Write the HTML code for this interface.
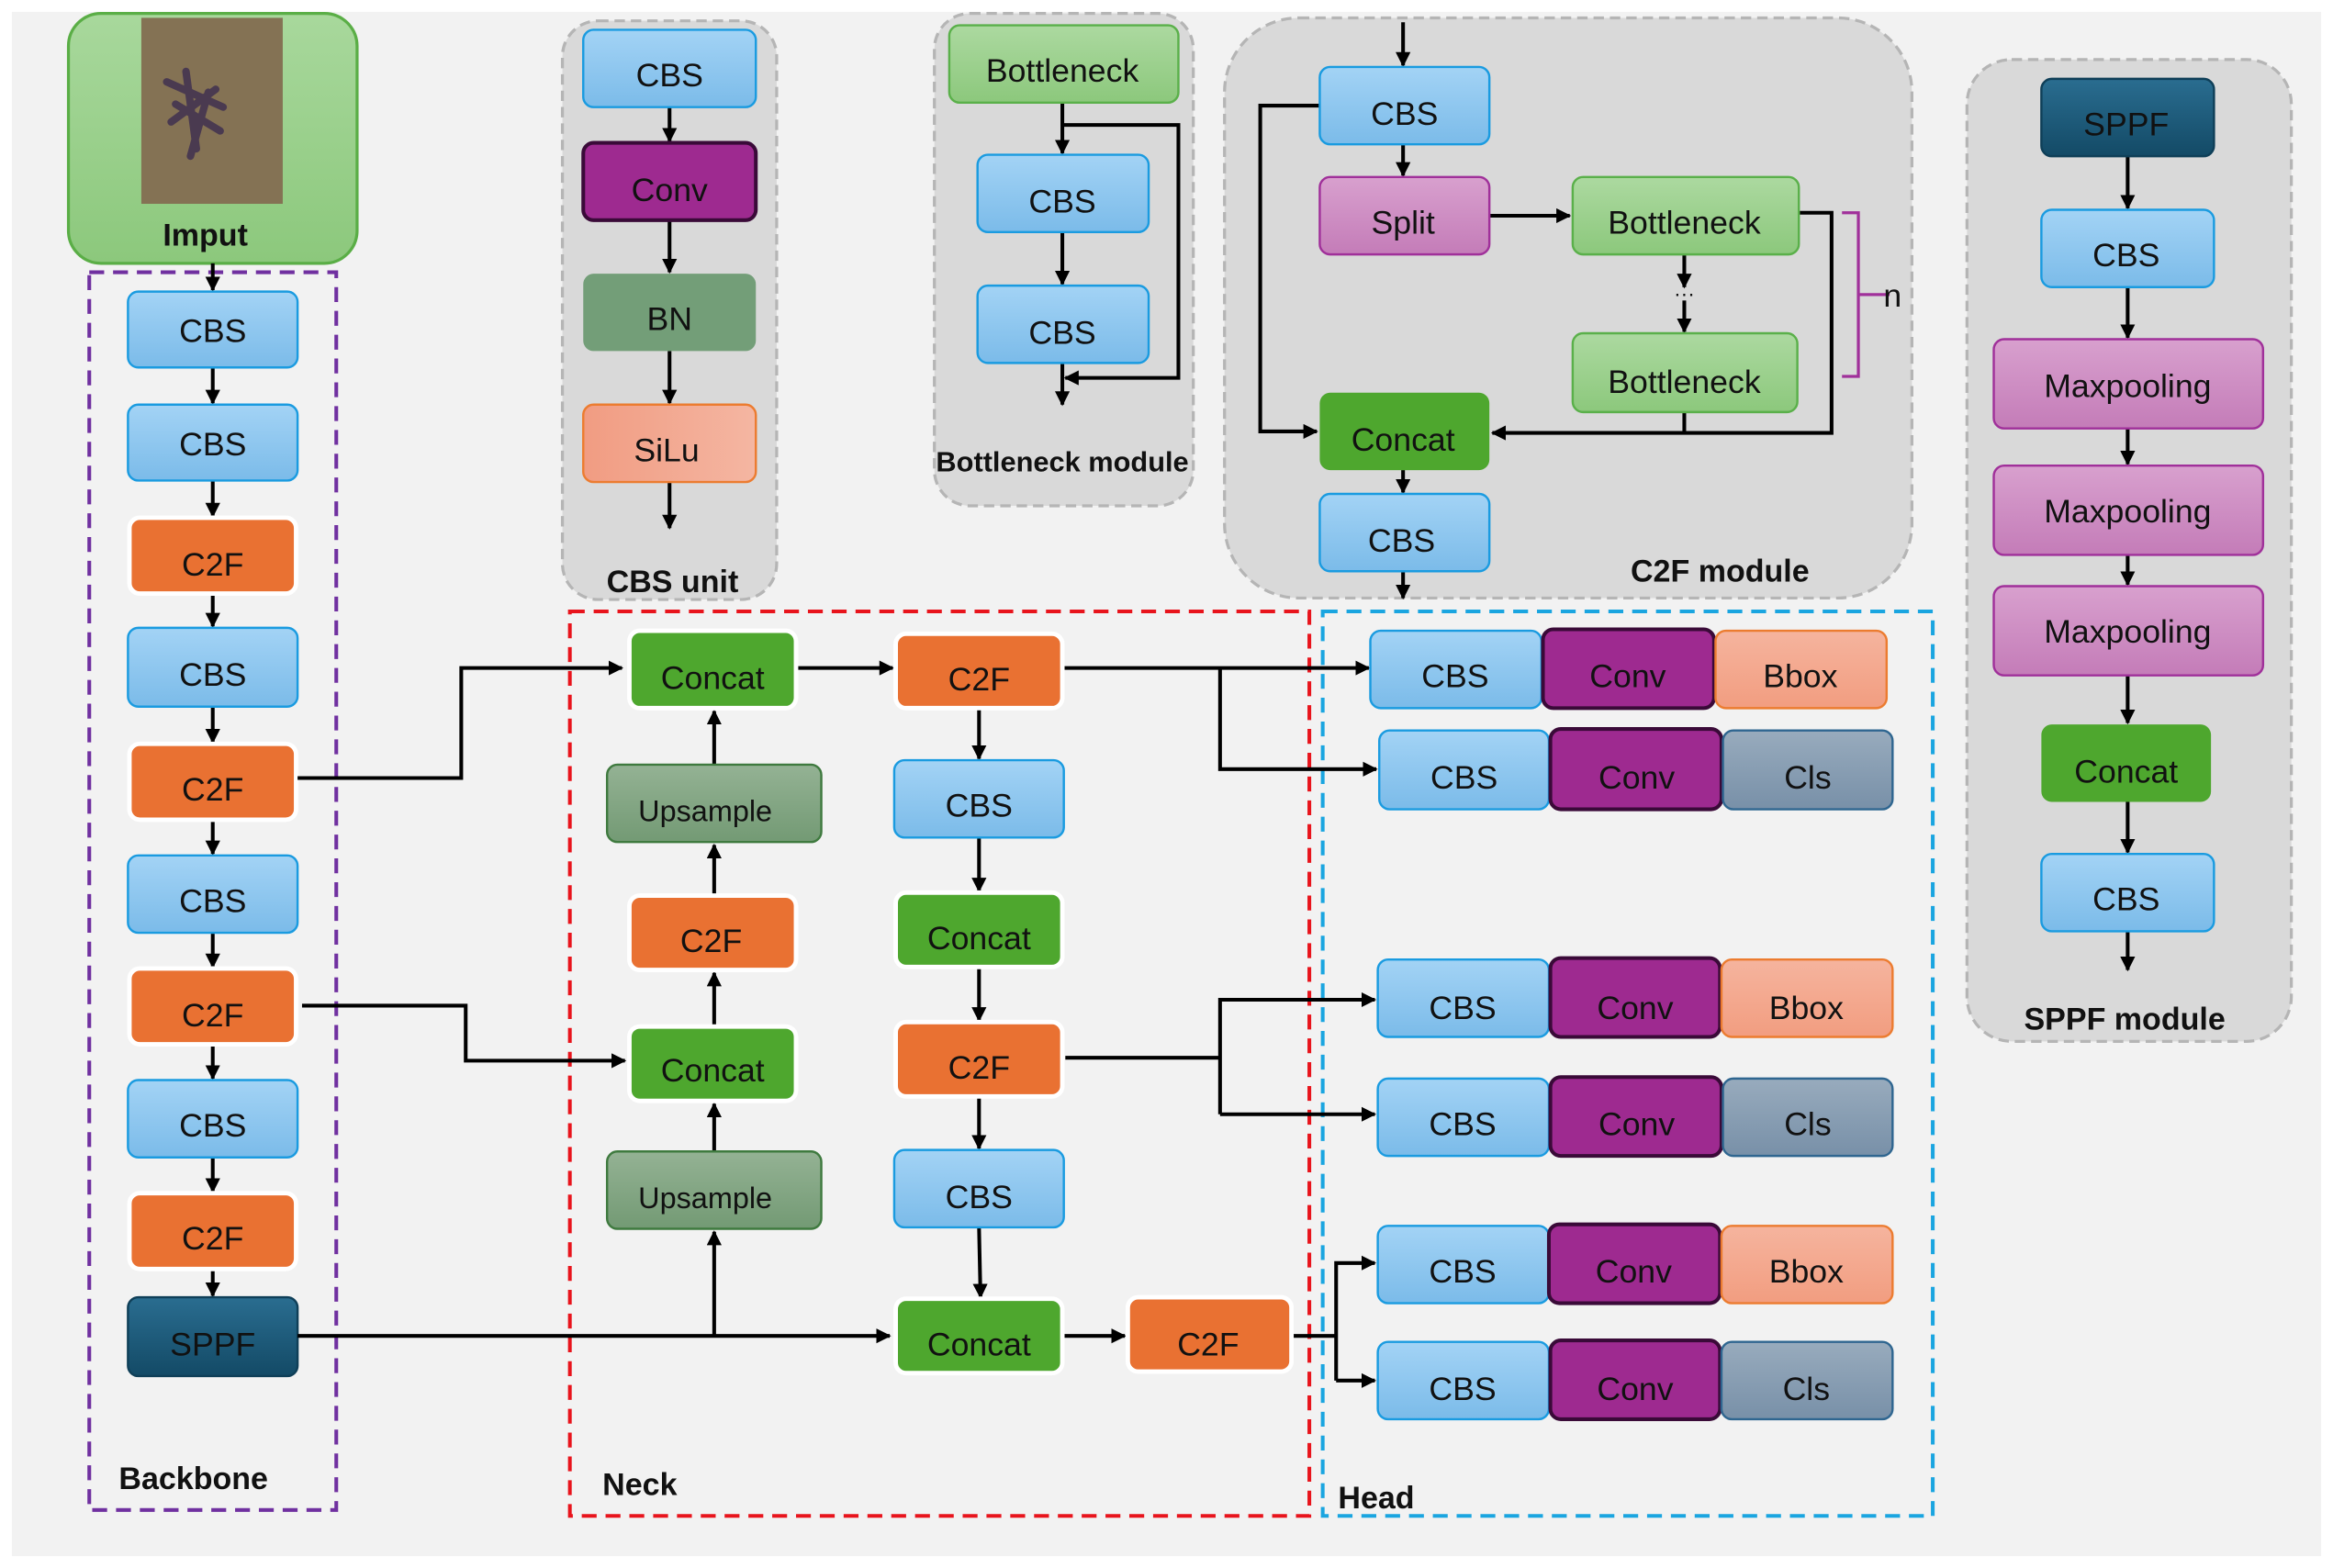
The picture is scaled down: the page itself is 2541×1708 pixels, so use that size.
<!DOCTYPE html>
<html><head><meta charset="utf-8"><style>
html,body{margin:0;padding:0;background:#fff;}
svg{display:block;}
text{font-family:"Liberation Sans",sans-serif;font-size:22px;fill:#111;text-anchor:middle;}
.b{font-weight:bold;font-size:21px;}
</style></head><body>
<svg width="2541" height="1708" viewBox="0 0 1568 1054" preserveAspectRatio="none" xmlns="http://www.w3.org/2000/svg">
<defs>
<marker id="a" viewBox="0 0 10 10" refX="9" refY="5" markerWidth="4" markerHeight="4" orient="auto"><path d="M0,0L10,5L0,10z" fill="#000"/></marker>
<linearGradient id="cbs" x1="0" y1="0" x2="0" y2="1"><stop offset="0" stop-color="#a3d3f5"/><stop offset="1" stop-color="#7bbbe9"/></linearGradient>
<linearGradient id="sil" x1="0" y1="0" x2="1" y2="0"><stop offset="0" stop-color="#f19c82"/><stop offset="1" stop-color="#f4b6a2"/></linearGradient>
<linearGradient id="bb" x1="0" y1="0" x2="0" y2="1"><stop offset="0" stop-color="#f5b49e"/><stop offset="1" stop-color="#f29d80"/></linearGradient>
<linearGradient id="cls" x1="0" y1="0" x2="0" y2="1"><stop offset="0" stop-color="#98abbd"/><stop offset="1" stop-color="#7890a8"/></linearGradient>
<linearGradient id="spl" x1="0" y1="0" x2="0" y2="1"><stop offset="0" stop-color="#d8a0ce"/><stop offset="1" stop-color="#c47cb8"/></linearGradient>
<linearGradient id="bot" x1="0" y1="0" x2="0" y2="1"><stop offset="0" stop-color="#acd9a0"/><stop offset="1" stop-color="#8cc87c"/></linearGradient>
<linearGradient id="up" x1="0" y1="0" x2="0" y2="1"><stop offset="0" stop-color="#94b294"/><stop offset="1" stop-color="#739a74"/></linearGradient>
<linearGradient id="sp" x1="0" y1="0" x2="0" y2="1"><stop offset="0" stop-color="#2a6d90"/><stop offset="1" stop-color="#134a66"/></linearGradient>
<linearGradient id="inp" x1="0" y1="0" x2="0" y2="1"><stop offset="0" stop-color="#a8d89c"/><stop offset="1" stop-color="#8cc87c"/></linearGradient>
</defs>
<rect x="0" y="0" width="1568" height="1054" fill="#fff"/>
<rect x="8" y="8" width="1552" height="1038" fill="#f2f2f2"/>

<!-- modules background -->
<rect x="378" y="14" width="144" height="389" rx="24" fill="#d9d9d9" stroke="#b5b5b5" stroke-width="2" stroke-dasharray="7,4"/>
<rect x="628" y="9" width="174" height="331" rx="24" fill="#d9d9d9" stroke="#b5b5b5" stroke-width="2" stroke-dasharray="7,4"/>
<rect x="823" y="12" width="462" height="390" rx="50" fill="#d9d9d9" stroke="#b5b5b5" stroke-width="2" stroke-dasharray="7,4"/>
<rect x="1322" y="40" width="218" height="660" rx="30" fill="#d9d9d9" stroke="#b5b5b5" stroke-width="2" stroke-dasharray="7,4"/>

<!-- dashed group frames -->
<rect x="60" y="183" width="166" height="832" fill="none" stroke="#7030a0" stroke-width="2.5" stroke-dasharray="10,6"/>
<rect x="383" y="411" width="497" height="608" fill="none" stroke="#e8141c" stroke-width="2.5" stroke-dasharray="10,6"/>
<rect x="889" y="411" width="410" height="608" fill="none" stroke="#1aa5e0" stroke-width="2.5" stroke-dasharray="10,6"/>
<text class="b" x="130" y="1001">Backbone</text>
<text class="b" x="430" y="1005">Neck</text>
<text class="b" x="925" y="1014">Head</text>

<!-- Input -->
<rect x="46" y="9" width="194" height="168" rx="22" fill="url(#inp)" stroke="#5aae46" stroke-width="2"/>
<rect x="95" y="12" width="95" height="125" fill="#7d6a4e"/>
<rect x="95" y="12" width="95" height="125" fill="#8b7a5a" opacity="0.5"/>
<g stroke="#4a3a50" stroke-width="5" stroke-linecap="round">
<line x1="112" y1="55" x2="150" y2="72"/><line x1="118" y1="70" x2="148" y2="88"/><line x1="125" y1="48" x2="132" y2="100"/><line x1="140" y1="62" x2="128" y2="105"/><line x1="115" y1="82" x2="145" y2="60"/>
</g>
<text class="b" x="138" y="165">Imput</text>

<!-- Backbone column -->
<g stroke="#000" stroke-width="2.5" marker-end="url(#a)">
<line x1="143" y1="177" x2="143" y2="195"/>
<line x1="143" y1="247" x2="143" y2="271"/>
<line x1="143" y1="323" x2="143" y2="347"/>
<line x1="143" y1="399" x2="143" y2="421"/>
<line x1="143" y1="475" x2="143" y2="499"/>
<line x1="143" y1="551" x2="143" y2="574"/>
<line x1="143" y1="627" x2="143" y2="650"/>
<line x1="143" y1="702" x2="143" y2="725"/>
<line x1="143" y1="778" x2="143" y2="801"/>
<line x1="143" y1="853" x2="143" y2="871"/>
</g>
<g stroke="#1a9be0" stroke-width="1.5" fill="url(#cbs)">
<rect x="86" y="196" width="114" height="51" rx="7"/>
<rect x="86" y="272" width="114" height="51" rx="7"/>
<rect x="86" y="422" width="114" height="53" rx="7"/>
<rect x="86" y="575" width="114" height="52" rx="7"/>
<rect x="86" y="726" width="114" height="52" rx="7"/>
</g>
<g fill="#e97132" stroke="#fff" stroke-width="3">
<rect x="87" y="348" width="112" height="51" rx="7"/>
<rect x="87" y="500" width="112" height="51" rx="7"/>
<rect x="87" y="651" width="112" height="51" rx="7"/>
<rect x="87" y="802" width="112" height="51" rx="7"/>
</g>
<rect x="86" y="872" width="114" height="53" rx="7" fill="url(#sp)" stroke="#0f3f58" stroke-width="1.5"/>
<text x="143" y="230">CBS</text><text x="143" y="306">CBS</text><text x="143" y="387">C2F</text>
<text x="143" y="461">CBS</text><text x="143" y="538">C2F</text><text x="143" y="613">CBS</text>
<text x="143" y="690">C2F</text><text x="143" y="764">CBS</text><text x="143" y="840">C2F</text>
<text x="143" y="911">SPPF</text>

<!-- CBS unit -->
<g stroke="#000" stroke-width="2.5" marker-end="url(#a)">
<line x1="450" y1="72" x2="450" y2="95"/><line x1="450" y1="148" x2="450" y2="183"/>
<line x1="450" y1="236" x2="450" y2="271"/><line x1="450" y1="324" x2="450" y2="355"/>
</g>
<rect x="392" y="20" width="116" height="52" rx="7" fill="url(#cbs)" stroke="#1a9be0" stroke-width="1.5"/>
<rect x="392" y="96" width="116" height="52" rx="7" fill="#9e2a90" stroke="#3a0a38" stroke-width="2.5"/>
<rect x="392" y="184" width="116" height="52" rx="7" fill="#739e78"/>
<rect x="392" y="272" width="116" height="52" rx="7" fill="url(#sil)" stroke="#ec7c30" stroke-width="1.5"/>
<text x="450" y="58">CBS</text><text x="450" y="135">Conv</text><text x="450" y="222">BN</text><text x="448" y="310">SiLu</text>
<text class="b" x="452" y="398">CBS unit</text>

<!-- Bottleneck module -->
<g stroke="#000" stroke-width="2.5" fill="none">
<line x1="714" y1="69" x2="714" y2="103" marker-end="url(#a)"/>
<line x1="714" y1="156" x2="714" y2="191" marker-end="url(#a)"/>
<line x1="714" y1="244" x2="714" y2="272" marker-end="url(#a)"/>
<polyline points="714,84 792,84 792,254 716,254" marker-end="url(#a)"/>
</g>
<rect x="638" y="17" width="154" height="52" rx="7" fill="url(#bot)" stroke="#5ab04a" stroke-width="1.5"/>
<rect x="657" y="104" width="115" height="52" rx="7" fill="url(#cbs)" stroke="#1a9be0" stroke-width="1.5"/>
<rect x="657" y="192" width="115" height="52" rx="7" fill="url(#cbs)" stroke="#1a9be0" stroke-width="1.5"/>
<text x="714" y="55">Bottleneck</text><text x="714" y="143">CBS</text><text x="714" y="231">CBS</text>
<text class="b" x="714" y="317" style="font-size:19px">Bottleneck module</text>

<!-- C2F module -->
<g stroke="#000" stroke-width="2.5" fill="none">
<line x1="943" y1="15" x2="943" y2="44" marker-end="url(#a)"/>
<line x1="943" y1="97" x2="943" y2="118" marker-end="url(#a)"/>
<line x1="1001" y1="145" x2="1055" y2="145" marker-end="url(#a)"/>
<polyline points="887,71 847,71 847,290 885,290" marker-end="url(#a)"/>
<line x1="1132" y1="171" x2="1132" y2="193" marker-end="url(#a)"/>
<line x1="1132" y1="202" x2="1132" y2="223" marker-end="url(#a)"/>
<polyline points="1209,143 1231,143 1231,291 1003,291" marker-end="url(#a)"/>
<line x1="1132" y1="277" x2="1132" y2="291"/>
<line x1="943" y1="316" x2="943" y2="331" marker-end="url(#a)"/>
<line x1="943" y1="384" x2="943" y2="402" marker-end="url(#a)"/>
</g>
<text x="1132" y="202" style="font-size:14px">···</text>
<path d="M1238,143 H1249 V253 H1238 M1249,198 H1270" fill="none" stroke="#a0309a" stroke-width="2"/>
<text x="1272" y="206">n</text>
<rect x="887" y="45" width="114" height="52" rx="7" fill="url(#cbs)" stroke="#1a9be0" stroke-width="1.5"/>
<rect x="887" y="119" width="114" height="52" rx="7" fill="url(#spl)" stroke="#a0309a" stroke-width="1.5"/>
<rect x="1057" y="119" width="152" height="52" rx="7" fill="url(#bot)" stroke="#5ab04a" stroke-width="1.5"/>
<rect x="1057" y="224" width="151" height="53" rx="7" fill="url(#bot)" stroke="#5ab04a" stroke-width="1.5"/>
<rect x="887" y="264" width="114" height="52" rx="7" fill="#4ea72e"/>
<rect x="887" y="332" width="114" height="52" rx="7" fill="url(#cbs)" stroke="#1a9be0" stroke-width="1.5"/>
<text x="944" y="84">CBS</text><text x="943" y="157">Split</text><text x="1132" y="157">Bottleneck</text>
<text x="1132" y="264">Bottleneck</text><text x="943" y="303">Concat</text><text x="942" y="371">CBS</text>
<text class="b" x="1156" y="391">C2F module</text>

<!-- SPPF module -->
<g stroke="#000" stroke-width="2.5" marker-end="url(#a)">
<line x1="1430" y1="105" x2="1430" y2="140"/><line x1="1430" y1="193" x2="1430" y2="227"/>
<line x1="1430" y1="288" x2="1430" y2="312"/><line x1="1430" y1="373" x2="1430" y2="393"/>
<line x1="1430" y1="454" x2="1430" y2="486"/><line x1="1430" y1="539" x2="1430" y2="573"/>
<line x1="1430" y1="626" x2="1430" y2="652"/>
</g>
<rect x="1372" y="53" width="116" height="52" rx="7" fill="url(#sp)" stroke="#0f3f58" stroke-width="1.5"/>
<rect x="1372" y="141" width="116" height="52" rx="7" fill="url(#cbs)" stroke="#1a9be0" stroke-width="1.5"/>
<rect x="1340" y="228" width="181" height="60" rx="7" fill="url(#spl)" stroke="#a0309a" stroke-width="1.5"/>
<rect x="1340" y="313" width="181" height="60" rx="7" fill="url(#spl)" stroke="#a0309a" stroke-width="1.5"/>
<rect x="1340" y="394" width="181" height="60" rx="7" fill="url(#spl)" stroke="#a0309a" stroke-width="1.5"/>
<rect x="1372" y="487" width="114" height="52" rx="7" fill="#4ea72e"/>
<rect x="1372" y="574" width="116" height="52" rx="7" fill="url(#cbs)" stroke="#1a9be0" stroke-width="1.5"/>
<text x="1429" y="91">SPPF</text><text x="1429" y="179">CBS</text>
<text x="1430" y="267">Maxpooling</text><text x="1430" y="351">Maxpooling</text><text x="1430" y="432">Maxpooling</text>
<text x="1429" y="526">Concat</text><text x="1429" y="612">CBS</text>
<text class="b" x="1428" y="692">SPPF module</text>

<!-- Connections backbone->neck->head -->
<g stroke="#000" stroke-width="2.5" fill="none">
<polyline points="200,523 310,523 310,449 418,449" marker-end="url(#a)"/>
<polyline points="203,676 313,676 313,713 420,713" marker-end="url(#a)"/>
<line x1="200" y1="898" x2="598" y2="898" marker-end="url(#a)"/>
<line x1="480" y1="898" x2="480" y2="828" marker-end="url(#a)"/>
<line x1="480" y1="774" x2="480" y2="742" marker-end="url(#a)"/>
<line x1="480" y1="690" x2="480" y2="654" marker-end="url(#a)"/>
<line x1="480" y1="602" x2="480" y2="568" marker-end="url(#a)"/>
<line x1="480" y1="514" x2="480" y2="478" marker-end="url(#a)"/>
<line x1="535" y1="449" x2="600" y2="449" marker-end="url(#a)"/>
<line x1="658" y1="476" x2="658" y2="510" marker-end="url(#a)"/>
<line x1="658" y1="563" x2="658" y2="599" marker-end="url(#a)"/>
<line x1="658" y1="650" x2="658" y2="686" marker-end="url(#a)"/>
<line x1="658" y1="737" x2="658" y2="772" marker-end="url(#a)"/>
<line x1="658" y1="825" x2="659" y2="872" marker-end="url(#a)"/>
<line x1="714" y1="898" x2="756" y2="898" marker-end="url(#a)"/>
<line x1="714" y1="449" x2="920" y2="449" marker-end="url(#a)"/>
<polyline points="820,449 820,517 925,517" marker-end="url(#a)"/>
<line x1="716" y1="711" x2="820" y2="711"/>
<polyline points="820,749 820,672 924,672" marker-end="url(#a)"/>
<line x1="820" y1="749" x2="924" y2="749" marker-end="url(#a)"/>
<line x1="868" y1="898" x2="898" y2="898"/>
<polyline points="898,928 898,849 924,849" marker-end="url(#a)"/>
<line x1="898" y1="928" x2="924" y2="928" marker-end="url(#a)"/>
</g>

<!-- Neck boxes -->
<g fill="#4ea72e" stroke="#fff" stroke-width="3">
<rect x="423" y="424" width="112" height="52" rx="7"/>
<rect x="423" y="690" width="112" height="50" rx="7"/>
<rect x="602" y="600" width="112" height="50" rx="7"/>
<rect x="602" y="873" width="112" height="50" rx="7"/>
</g>
<g fill="#e97132" stroke="#fff" stroke-width="3">
<rect x="423" y="602" width="112" height="50" rx="7"/>
<rect x="602" y="426" width="112" height="50" rx="7"/>
<rect x="602" y="687" width="112" height="50" rx="7"/>
<rect x="758" y="872" width="110" height="50" rx="7"/>
</g>
<g fill="url(#up)" stroke="#3f7a3f" stroke-width="1.5">
<rect x="408" y="514" width="144" height="52" rx="7"/>
<rect x="408" y="774" width="144" height="52" rx="7"/>
</g>
<g fill="url(#cbs)" stroke="#1a9be0" stroke-width="1.5">
<rect x="601" y="511" width="114" height="52" rx="7"/>
<rect x="601" y="773" width="114" height="52" rx="7"/>
</g>
<text x="479" y="463">Concat</text><text x="474" y="552" style="font-size:20px">Upsample</text>
<text x="478" y="640">C2F</text><text x="479" y="727">Concat</text><text x="474" y="812" style="font-size:20px">Upsample</text>
<text x="658" y="464">C2F</text><text x="658" y="549">CBS</text><text x="658" y="638">Concat</text>
<text x="658" y="725">C2F</text><text x="658" y="812">CBS</text><text x="658" y="911">Concat</text>
<text x="812" y="911">C2F</text>

<!-- Head rows -->
<g stroke-width="1.5">
<rect x="921" y="424" width="115" height="52" rx="7" fill="url(#cbs)" stroke="#1a9be0"/>
<rect x="1037" y="423" width="115" height="53" rx="7" fill="#9e2a90" stroke="#3a0a38" stroke-width="2.5"/>
<rect x="1153" y="424" width="115" height="52" rx="7" fill="url(#bb)" stroke="#ec7c30"/>
<rect x="927" y="491" width="114" height="53" rx="7" fill="url(#cbs)" stroke="#1a9be0"/>
<rect x="1042" y="490" width="115" height="54" rx="7" fill="#9e2a90" stroke="#3a0a38" stroke-width="2.5"/>
<rect x="1158" y="491" width="114" height="53" rx="7" fill="url(#cls)" stroke="#2f6690"/>
<rect x="926" y="645" width="115" height="52" rx="7" fill="url(#cbs)" stroke="#1a9be0"/>
<rect x="1042" y="644" width="114" height="53" rx="7" fill="#9e2a90" stroke="#3a0a38" stroke-width="2.5"/>
<rect x="1157" y="645" width="115" height="52" rx="7" fill="url(#bb)" stroke="#ec7c30"/>
<rect x="926" y="725" width="115" height="52" rx="7" fill="url(#cbs)" stroke="#1a9be0"/>
<rect x="1042" y="724" width="115" height="53" rx="7" fill="#9e2a90" stroke="#3a0a38" stroke-width="2.5"/>
<rect x="1158" y="725" width="114" height="52" rx="7" fill="url(#cls)" stroke="#2f6690"/>
<rect x="926" y="824" width="115" height="52" rx="7" fill="url(#cbs)" stroke="#1a9be0"/>
<rect x="1041" y="823" width="115" height="53" rx="7" fill="#9e2a90" stroke="#3a0a38" stroke-width="2.5"/>
<rect x="1157" y="824" width="115" height="52" rx="7" fill="url(#bb)" stroke="#ec7c30"/>
<rect x="926" y="902" width="115" height="52" rx="7" fill="url(#cbs)" stroke="#1a9be0"/>
<rect x="1042" y="901" width="114" height="53" rx="7" fill="#9e2a90" stroke="#3a0a38" stroke-width="2.5"/>
<rect x="1157" y="902" width="115" height="52" rx="7" fill="url(#cls)" stroke="#2f6690"/>
</g>
<text x="978" y="462">CBS</text><text x="1094" y="462">Conv</text><text x="1210" y="462">Bbox</text>
<text x="984" y="530">CBS</text><text x="1100" y="530">Conv</text><text x="1215" y="530">Cls</text>
<text x="983" y="685">CBS</text><text x="1099" y="685">Conv</text><text x="1214" y="685">Bbox</text>
<text x="983" y="763">CBS</text><text x="1100" y="763">Conv</text><text x="1215" y="763">Cls</text>
<text x="983" y="862">CBS</text><text x="1098" y="862">Conv</text><text x="1214" y="862">Bbox</text>
<text x="983" y="941">CBS</text><text x="1099" y="941">Conv</text><text x="1214" y="941">Cls</text>
</svg>
</body></html>
